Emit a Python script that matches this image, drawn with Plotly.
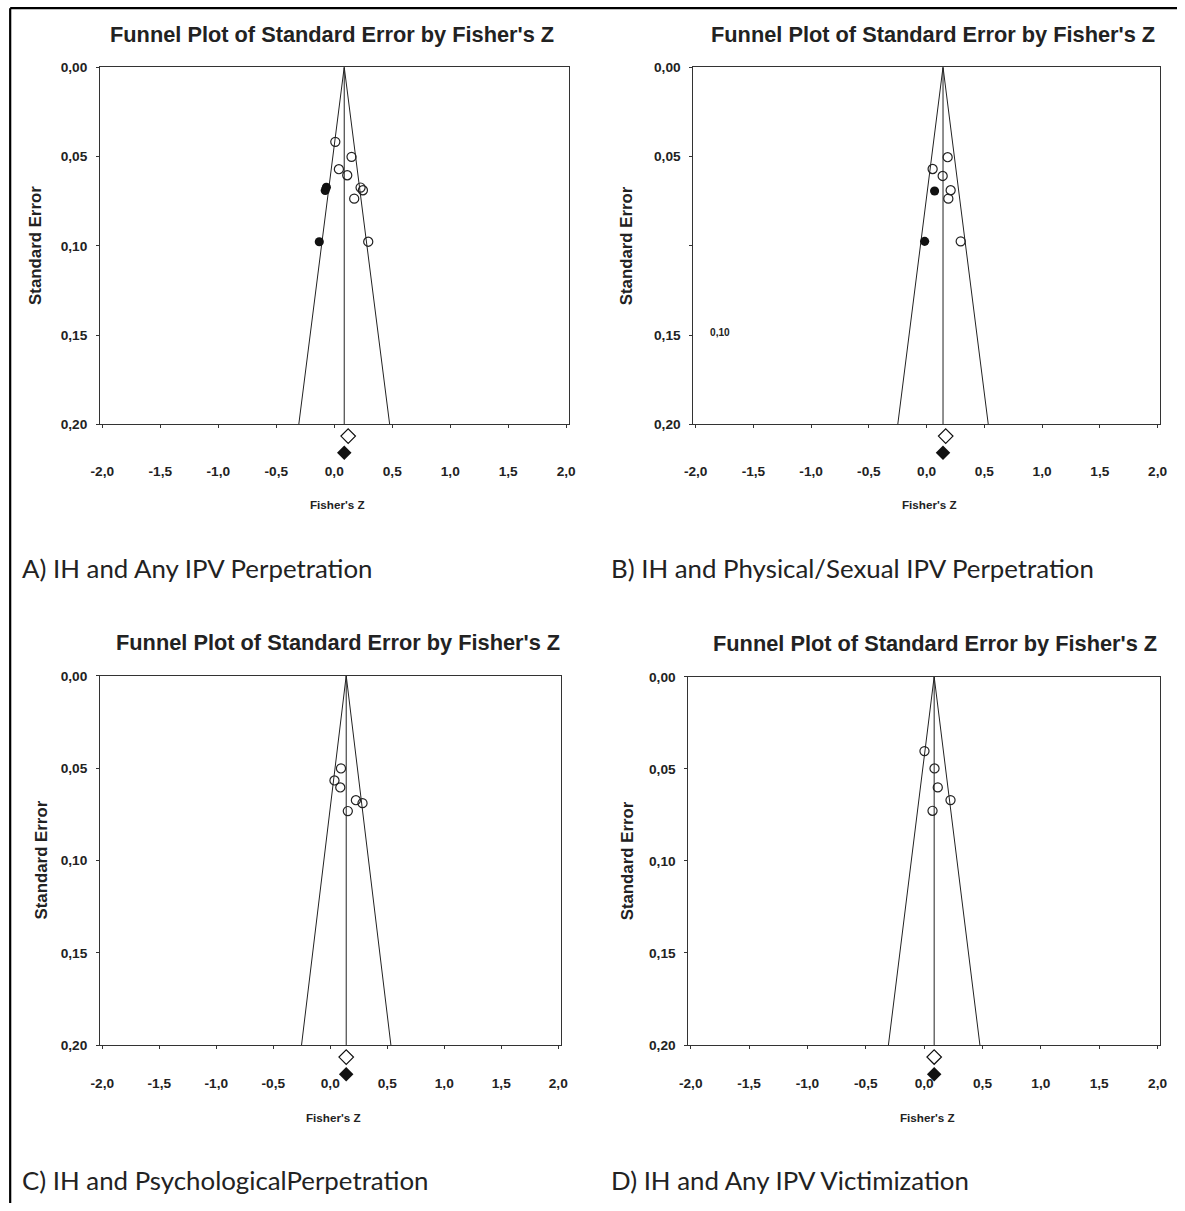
import plotly.graph_objects as go

W, H = 1185, 1211

# ---------------- data ----------------
se_ticks = [0.0, 0.05, 0.10, 0.15, 0.20]
se_labels = ["0,00", "0,05", "0,10", "0,15", "0,20"]
se_labels_b = ["0,00", "0,05", "", "0,15", "0,20"]
z_ticks = [-2.0, -1.5, -1.0, -0.5, 0.0, 0.5, 1.0, 1.5, 2.0]
z_labels = ["-2,0", "-1,5", "-1,0", "-0,5", "0,0", "0,5", "1,0", "1,5", "2,0"]

# Panel A: IH and Any IPV Perpetration
a_obs_z = [0.009, 0.149, 0.040, 0.112, 0.227, 0.247, 0.172, 0.293]
a_obs_se = [0.0418, 0.0502, 0.0571, 0.0605, 0.0674, 0.0689, 0.0736, 0.0977]
a_imp_z = [-0.078, -0.068, -0.129]
a_imp_se = [0.0690, 0.0672, 0.0977]
a_obs_est = 0.12
a_adj_est = 0.086

# Panel B: IH and Physical/Sexual IPV Perpetration
b_obs_z = [0.182, 0.052, 0.139, 0.208, 0.188, 0.295]
b_obs_se = [0.0504, 0.0570, 0.0609, 0.0689, 0.0736, 0.0975]
b_imp_z = [0.069, -0.017]
b_imp_se = [0.0693, 0.0975]
b_obs_est = 0.165
b_adj_est = 0.142

# Panel C: IH and Psychological Perpetration
c_obs_z = [0.094, 0.037, 0.088, 0.225, 0.283, 0.154]
c_obs_se = [0.0502, 0.0567, 0.0605, 0.0674, 0.0690, 0.0733]
c_imp_z = []
c_imp_se = []
c_obs_est = 0.14
c_adj_est = 0.14

# Panel D: IH and Any IPV Victimization
d_obs_z = [0.003, 0.089, 0.117, 0.226, 0.072]
d_obs_se = [0.0404, 0.0498, 0.0601, 0.0670, 0.0728]
d_imp_z = []
d_imp_se = []
d_obs_est = 0.086
d_adj_est = 0.086

title_text = "Funnel Plot of Standard Error by Fisher's Z"
captions = ["A) IH and Any IPV Perpetration",
            "B) IH and Physical/Sexual IPV Perpetration",
            "C) IH and PsychologicalPerpetration",
            "D) IH and Any IPV Victimization"]

# ---------------- layout geometry (reference pixels) ----------------
panels = [
    dict(x0=99, x1=568, y0=68, y1=425, obs_z=a_obs_z, obs_se=a_obs_se, imp_z=a_imp_z, imp_se=a_imp_se,
         obs_est=a_obs_est, adj_est=a_adj_est, ylab=se_labels, cap=(22, 568), tstand=31, zy=505, ytx=35,
         tx=331),
    dict(x0=693, x1=1160, y0=68, y1=425, obs_z=b_obs_z, obs_se=b_obs_se, imp_z=b_imp_z, imp_se=b_imp_se,
         obs_est=b_obs_est, adj_est=b_adj_est, ylab=se_labels_b, cap=(612, 568), tstand=31, zy=505, ytx=626,
         tx=933),
    dict(x0=99, x1=560, y0=676, y1=1045, obs_z=c_obs_z, obs_se=c_obs_se, imp_z=c_imp_z, imp_se=c_imp_se,
         obs_est=c_obs_est, adj_est=c_adj_est, ylab=se_labels, cap=(22, 1180), tstand=23, zy=1117, ytx=40,
         tx=337),
    dict(x0=688, x1=1160, y0=677, y1=1045, obs_z=d_obs_z, obs_se=d_obs_se, imp_z=d_imp_z, imp_se=d_imp_se,
         obs_est=d_obs_est, adj_est=d_adj_est, ylab=se_labels, cap=(612, 1180), tstand=23, zy=1117, ytx=627,
         tx=935),
]

# the photographed page is slightly reduced and offset; compensate
S, O = 0.9867, 7.9

def T(v):
    return (v - O) / S

def px(x):
    return T(x) / W

def py(y):
    return 1 - T(y) / H

def fs(f):
    return f / S

fig = go.Figure()
annotations = []
shapes = []
AX = "#333333"
FONT = "Liberation Sans, Arial, sans-serif"
EXT = 45  # reference px of strip below each axis for the summary diamonds

for i, p in enumerate(panels):
    n = "" if i == 0 else str(i + 1)
    xa, ya = "x" + n, "y" + n
    ya_aux = "y" + str(5 + i)
    ppu = (p["y1"] - p["y0"]) / 0.2
    m = p["adj_est"]
    # funnel (95% limits) and vertical estimate line
    fig.add_trace(go.Scatter(x=[m - 1.96 * 0.2, m, m + 1.96 * 0.2], y=[0.2, 0.0, 0.2], mode="lines",
                             line=dict(color="#222222", width=1), xaxis=xa, yaxis=ya, showlegend=False,
                             hoverinfo="skip"))
    fig.add_trace(go.Scatter(x=[m, m], y=[0.0, 0.2], mode="lines",
                             line=dict(color="#222222", width=1), xaxis=xa, yaxis=ya, showlegend=False,
                             hoverinfo="skip"))
    # observed studies
    fig.add_trace(go.Scatter(x=p["obs_z"], y=p["obs_se"], mode="markers",
                             marker=dict(symbol="circle-open", size=fs(9), color="#222222", line=dict(width=1.2)),
                             xaxis=xa, yaxis=ya, showlegend=False))
    # imputed studies
    if p["imp_z"]:
        fig.add_trace(go.Scatter(x=p["imp_z"], y=p["imp_se"], mode="markers",
                                 marker=dict(symbol="circle", size=fs(9), color="#111111"),
                                 xaxis=xa, yaxis=ya, showlegend=False))
    # summary diamonds (observed open, adjusted filled) in a strip below the axis
    fig.add_trace(go.Scatter(x=[p["obs_est"]], y=[0.2065], mode="markers",
                             marker=dict(symbol="diamond-open", size=fs(11), color="#111111", line=dict(width=1.2)),
                             xaxis=xa, yaxis=ya_aux, showlegend=False))
    fig.add_trace(go.Scatter(x=[p["adj_est"]], y=[0.2158], mode="markers",
                             marker=dict(symbol="diamond", size=fs(11), color="#111111"),
                             xaxis=xa, yaxis=ya_aux, showlegend=False))

    fig.layout["xaxis" + n] = dict(
        domain=[px(p["x0"]), px(p["x1"])], anchor=ya, range=[-2.02, 2.02],
        tickvals=z_ticks, ticktext=z_labels, ticks="outside", ticklen=3, tickcolor=AX,
        showline=True, linecolor=AX, linewidth=1, mirror=True, showgrid=False, zeroline=False,
        tickfont=dict(family=FONT, size=fs(13.5), color="#222222", weight="bold"),
        ticklabelstandoff=p["tstand"])
    fig.layout["yaxis" + n] = dict(
        domain=[py(p["y1"]), py(p["y0"])], anchor=xa, range=[0.2, 0.0],
        tickvals=se_ticks, ticktext=p["ylab"], ticks="outside", ticklen=3, tickcolor=AX,
        showline=True, linecolor=AX, linewidth=1, mirror=True, showgrid=False, zeroline=False,
        tickfont=dict(family=FONT, size=fs(13.5), color="#222222", weight="bold"),
        ticklabelstandoff=6)
    fig.layout["yaxis" + str(5 + i)] = dict(
        domain=[py(p["y1"] + EXT), py(p["y1"])], anchor=xa, range=[0.2 + EXT / ppu, 0.2],
        visible=False, showgrid=False, zeroline=False)

    cx = (p["x0"] + p["x1"]) / 2
    annotations.append(dict(text="<b>" + title_text + "</b>", x=px(p["tx"]),
                            y=py(p["y0"] - 33), xref="paper", yref="paper", showarrow=False,
                            xanchor="center", yanchor="middle",
                            font=dict(family=FONT, size=fs(21.5), color="#222222")))
    annotations.append(dict(text="<b>Fisher's Z</b>", x=px(cx + 3), y=py(p["zy"]), xref="paper", yref="paper",
                            showarrow=False, xanchor="center", yanchor="middle",
                            font=dict(family=FONT, size=fs(11.5), color="#222222")))
    annotations.append(dict(text="<b>Standard Error</b>", x=px(p["ytx"]), y=py((p["y0"] + p["y1"]) / 2),
                            xref="paper", yref="paper", showarrow=False, textangle=-90,
                            xanchor="center", yanchor="middle",
                            font=dict(family=FONT, size=fs(16.6), color="#222222")))
    annotations.append(dict(text=captions[i], x=px(p["cap"][0] - 3), y=py(p["cap"][1]), xref="paper",
                            yref="paper", showarrow=False, xanchor="left", yanchor="middle",
                            font=dict(family="Lato, Open Sans, sans-serif", size=fs(25.5), color="#222222")))

# stray label in panel B
annotations.append(dict(text="<b>0,10</b>", x=px(720), y=py(333), xref="paper", yref="paper",
                        showarrow=False, xanchor="center", yanchor="middle",
                        font=dict(family=FONT, size=fs(10), color="#222222")))

# outer border (left and top)
shapes.append(dict(type="line", xref="paper", yref="paper", x0=1.2 / W, x1=1.2 / W, y0=1 - 1.2 / H, y1=0,
                   line=dict(color="black", width=2.2)))
shapes.append(dict(type="line", xref="paper", yref="paper", x0=1.2 / W, x1=1, y0=1 - 1.2 / H, y1=1 - 1.2 / H,
                   line=dict(color="black", width=2.2)))

fig.update_layout(width=W, height=H, margin=dict(l=0, r=0, t=0, b=0),
                  paper_bgcolor="white", plot_bgcolor="white",
                  annotations=annotations, shapes=shapes, showlegend=False)

fig.write_html("out.html", config={"displayModeBar": False},
               post_script="document.body.style.margin='0';document.body.style.overflow='hidden';")
